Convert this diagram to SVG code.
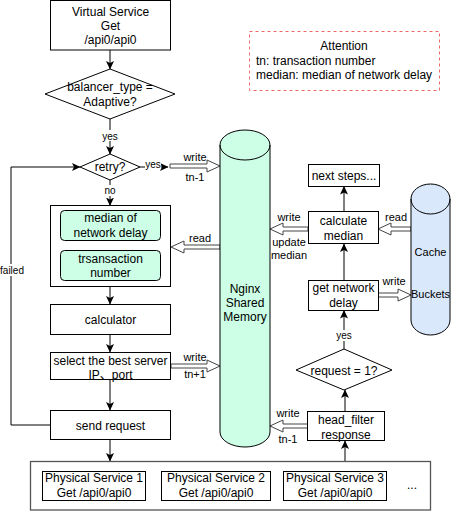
<svg xmlns="http://www.w3.org/2000/svg" width="451" height="511" viewBox="0 0 451 511">
<defs>
<marker id="ah" markerUnits="userSpaceOnUse" markerWidth="9" markerHeight="9" viewBox="0 0 9 9" refX="8" refY="4.5" orient="auto">
<path d="M0,0.5 L8.5,4.5 L0,8.5 L2,4.5 Z" fill="#000"/>
</marker>
</defs>
<style>
text{font-family:"Liberation Sans","Noto Sans CJK SC",Arial,sans-serif;fill:#000;text-anchor:middle}
.t12{font-size:12px}
.t11{font-size:11px}
.t10{font-size:10px}
.box{fill:#fff;stroke:#000;stroke-width:1}
.grn{fill:#ccffe6;stroke:#000;stroke-width:1}
.blu{fill:#dae8fc;stroke:#000;stroke-width:1}
.ln{fill:none;stroke:#000;stroke-width:1}
.ar{fill:none;stroke:#000;stroke-width:1;marker-end:url(#ah)}
.flex{fill:#fff;stroke:#444;stroke-width:1}
.lbg{fill:#fff}
</style>

<g id="connectors">
<line class="ar" x1="110" y1="50" x2="110" y2="69"/>
<line class="ar" x1="110" y1="119" x2="110" y2="154"/>
<rect class="lbg" x="100" y="130" width="20" height="11"/>
<text class="t10" x="110" y="139.5">yes</text>
<line class="ar" x1="140" y1="167" x2="168" y2="167"/>
<rect class="lbg" x="145" y="160" width="16" height="9"/>
<text class="t10" x="153" y="168">yes</text>
<line class="ar" x1="110" y1="180" x2="110" y2="205.5"/>
<rect class="lbg" x="102" y="185" width="16" height="11"/>
<text class="t10" x="110" y="194">no</text>
<line class="ar" x1="110" y1="287" x2="110" y2="304"/>
<line class="ar" x1="110" y1="335" x2="110" y2="352"/>
<line class="ar" x1="110" y1="380" x2="110" y2="410"/>
<line class="ar" x1="110" y1="440" x2="110" y2="461"/>
<polyline class="ar" points="50,425 11,425 11,167 80,167"/>
<rect class="lbg" x="0" y="264" width="25" height="12"/>
<text class="t10" x="12" y="273.5">failed</text>
<line class="ar" x1="345" y1="461" x2="345" y2="441"/>
<line class="ar" x1="345" y1="411" x2="345" y2="390"/>
<line class="ar" x1="344" y1="349" x2="344" y2="310.5"/>
<rect class="lbg" x="334" y="330" width="20" height="11"/>
<text class="t10" x="344" y="339">yes</text>
<line class="ar" x1="344" y1="280" x2="344" y2="244"/>
<line class="ar" x1="344" y1="211.5" x2="344" y2="186.5"/>

<path class="flex" d="M170,164 L207,164 L207,160 L220,166 L207,172 L207,168 L170,168 Z"/>
<text class="t11" x="195" y="161">write</text>
<text class="t11" x="195" y="181">tn-1</text>
<path class="flex" d="M220,245 L184,245 L184,241 L171,247 L184,253 L184,249 L220,249 Z"/>
<text class="t11" x="200" y="242">read</text>
<path class="flex" d="M171,364 L207,364 L207,360 L220,366 L207,372 L207,368 L171,368 Z"/>
<text class="t11" x="195" y="361">write</text>
<text class="t11" x="195" y="378">tn+1</text>
<path class="flex" d="M308,424 L283,424 L283,420 L270,426 L283,432 L283,428 L308,428 Z"/>
<text class="t11" x="288" y="417">write</text>
<text class="t11" x="288" y="443">tn-1</text>
<path class="flex" d="M308,227 L283,227 L283,223 L270,229 L283,235 L283,231 L308,231 Z"/>
<text class="t11" x="289" y="221">write</text>
<text class="t11" x="289" y="246">update</text>
<text class="t11" x="289" y="259">median</text>
<path class="flex" d="M411,227 L391,227 L391,223 L378,229 L391,235 L391,231 L411,231 Z"/>
<text class="t11" x="396" y="221">read</text>
<path class="flex" d="M378,293 L398,293 L398,289 L411,295 L398,301 L398,297 L378,297 Z"/>
<text class="t11" x="394" y="285">write</text>
</g>

<g id="virtual-service">
<rect class="box" x="50.5" y="0.5" width="120" height="49.5"/>
<text class="t12" x="110.5" y="15.5">Virtual Service</text>
<text class="t12" x="110.5" y="29.5">Get</text>
<text class="t12" x="110.5" y="44">/api0/api0</text>
</g>

<g id="balancer-decision">
<polygon class="box" points="45,94 110,69 175,94 110,119"/>
<text class="t12" x="110" y="91">balancer_type =</text>
<text class="t12" x="110" y="106">Adaptive?</text>
</g>

<g id="retry-decision">
<polygon class="box" points="80,167 110,154 140,167 110,180"/>
<text class="t12" x="110" y="171">retry?</text>
</g>

<g id="read-group">
<rect class="box" x="50.5" y="205.5" width="120" height="81"/>
<rect class="grn" x="60.5" y="210.5" width="100" height="30" rx="4"/>
<text class="t12" x="110.5" y="222">median of</text>
<text class="t12" x="110.5" y="237">network delay</text>
<rect class="grn" x="60.5" y="250.5" width="100" height="30" rx="4"/>
<text class="t12" x="110.5" y="262.5">trsansaction</text>
<text class="t12" x="110.5" y="277">number</text>
</g>

<g id="calculator">
<rect class="box" x="50.5" y="304.5" width="120" height="30"/>
<text class="t12" x="110.5" y="323.5">calculator</text>
</g>

<g id="select-server">
<rect class="box" x="50.5" y="352.5" width="120" height="27"/>
<text class="t12" x="110.5" y="364.5">select the best server</text>
<text class="t12" x="110.5" y="378.5">IP、port</text>
</g>

<g id="send-request">
<rect class="box" x="50.5" y="410.5" width="120" height="29"/>
<text class="t12" x="110.5" y="429.5">send request</text>
</g>

<g id="nginx-shared-memory">
<path class="grn" d="M220,145 A25,15 0 0 1 270,145 L270,432 A25,15 0 0 1 220,432 Z"/>
<path class="ln" d="M220,145 A25,15 0 0 0 270,145"/>
<text class="t12" x="245" y="293">Nginx</text>
<text class="t12" x="245" y="307">Shared</text>
<text class="t12" x="245" y="321">Memory</text>
</g>

<g id="attention">
<rect x="249.5" y="31.5" width="190" height="59" fill="#fff" stroke="#ea6b66" stroke-width="1" stroke-dasharray="3 3"/>
<text class="t12" x="344" y="50">Attention</text>
<text class="t12" x="256" y="64.5" style="text-anchor:start">tn: transaction number</text>
<text class="t12" x="256" y="79" style="text-anchor:start">median: median of network delay</text>
</g>

<g id="next-steps">
<rect class="box" x="308.5" y="164.5" width="71" height="22"/>
<text class="t12" x="344" y="179.5">next steps...</text>
</g>

<g id="calculate-median">
<rect class="box" x="308.5" y="211.5" width="70" height="32"/>
<text class="t12" x="343.5" y="225">calculate</text>
<text class="t12" x="343.5" y="239.5">median</text>
</g>

<g id="cache-buckets">
<path class="blu" d="M411,199 A19.5,15 0 0 1 450,199 L450,320 A19.5,15 0 0 1 411,320 Z"/>
<path class="ln" d="M411,199 A19.5,15 0 0 0 450,199"/>
<text class="t11" x="430.5" y="255.5">Cache</text>
<text class="t11" x="430.5" y="298">Buckets</text>
</g>

<g id="get-network-delay">
<rect class="box" x="308.5" y="280.5" width="70" height="30"/>
<text class="t12" x="343.5" y="292">get network</text>
<text class="t12" x="343.5" y="307">delay</text>
</g>

<g id="request-decision">
<polygon class="box" points="296,370 344,349 392,370 344,390"/>
<text class="t12" x="344" y="374.5">request = 1?</text>
</g>

<g id="head-filter">
<rect class="box" x="307.5" y="411.5" width="77" height="29"/>
<text class="t12" x="346" y="423.5">head_filter</text>
<text class="t12" x="346" y="438.5">response</text>
</g>

<g id="physical-services">
<rect x="30.5" y="461.5" width="400" height="48.5" fill="#fff" stroke="#555" stroke-width="1.3"/>
<rect class="box" x="42.5" y="471.5" width="103" height="29"/>
<text class="t12" x="94" y="481.5">Physical Service 1</text>
<text class="t12" x="94" y="497">Get /api0/api0</text>
<rect class="box" x="161.5" y="471.5" width="109" height="29"/>
<text class="t12" x="216" y="481.5">Physical Service 2</text>
<text class="t12" x="216" y="497">Get /api0/api0</text>
<rect class="box" x="283.5" y="471.5" width="103" height="29"/>
<text class="t12" x="335" y="481.5">Physical Service 3</text>
<text class="t12" x="335" y="497">Get /api0/api0</text>
<text class="t12" x="412" y="489">...</text>
</g>
</svg>
